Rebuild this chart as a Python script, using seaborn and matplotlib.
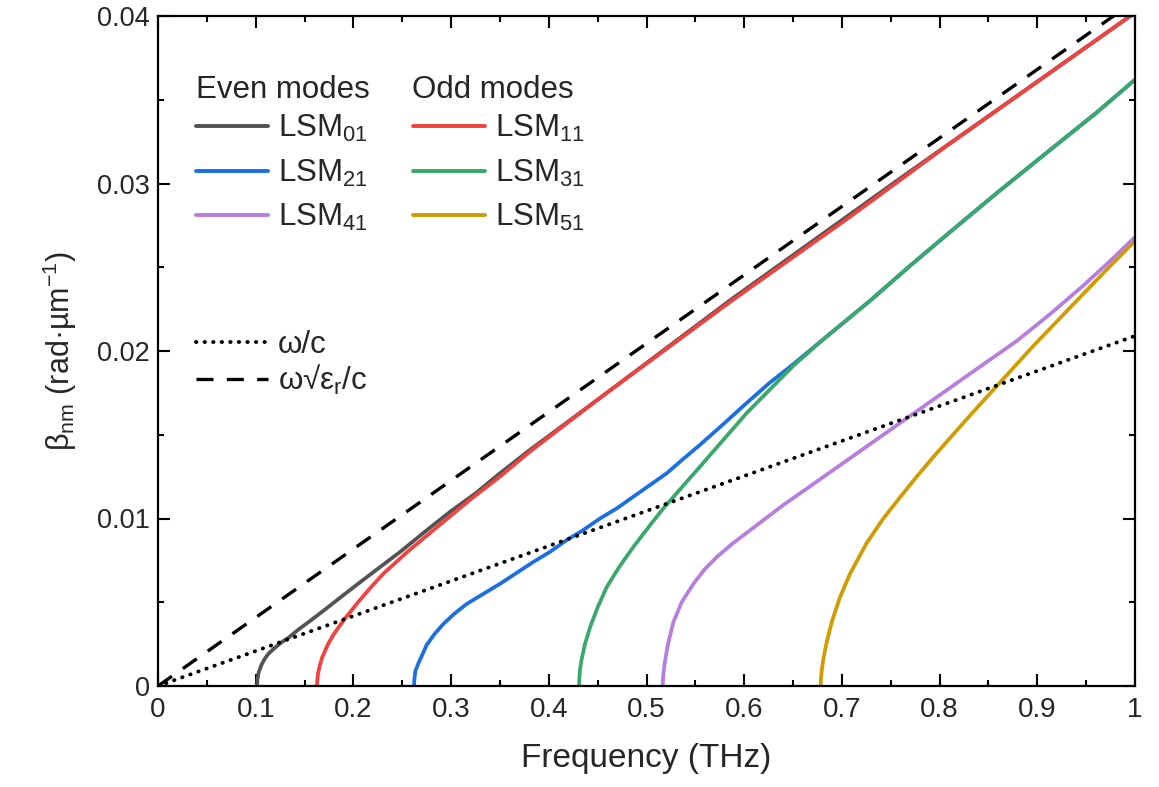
import numpy as np
import pandas as pd
import matplotlib
matplotlib.use("Agg")
import matplotlib.pyplot as plt
from matplotlib.lines import Line2D
import seaborn as sns

# ---------------- data ----------------
f_lsm01 = [0.1013, 0.1018, 0.1030, 0.1058, 0.1090, 0.1126, 0.1180, 0.1262, 0.1340, 0.1433, 0.1560,
           0.1706, 0.1870, 0.2047, 0.2250, 0.2477, 0.2730, 0.2989, 0.3250, 0.3500, 0.3808, 0.4524,
           0.5872, 0.7595, 1.0]
b_lsm01 = [0.0, 0.0004, 0.0008, 0.00125, 0.0016, 0.0019, 0.0022, 0.0026, 0.0029, 0.00335, 0.0039,
           0.00455, 0.0053, 0.0061, 0.0070, 0.0080, 0.0092, 0.0104, 0.0115, 0.0127, 0.0141, 0.0172,
           0.0231, 0.0303, 0.0402]

f_lsm11 = [0.1627, 0.1631, 0.1640, 0.1655, 0.1680, 0.1710, 0.1740, 0.1800, 0.1910, 0.2047, 0.2180,
           0.2306, 0.2550, 0.2818, 0.3190, 0.3500, 0.3808, 0.4524, 0.5872, 0.7080, 0.7595, 0.8038, 1.0]
b_lsm11 = [0.0, 0.0004, 0.0008, 0.0012, 0.0017, 0.0021, 0.0025, 0.0031, 0.0040, 0.0050, 0.0059,
           0.0067, 0.0080, 0.0093, 0.0111, 0.0125, 0.0140, 0.0172, 0.0230, 0.0280, 0.0302, 0.0321, 0.0402]

f_lsm21 = [0.2620, 0.2624, 0.2635, 0.2665, 0.2700, 0.2750, 0.2830, 0.2920, 0.3030, 0.3160, 0.3330,
           0.3500, 0.3670, 0.3840, 0.4010, 0.4180, 0.4350, 0.4524, 0.4695, 0.4865, 0.5036, 0.5207,
           0.5375, 0.5548, 0.5780, 0.6026, 0.6260, 0.6500, 0.6810, 0.7288, 0.7700, 0.8106, 0.8600,
           0.9130, 0.9600, 1.0]
b_lsm21 = [0.0, 0.0004, 0.0009, 0.00135, 0.0018, 0.00245, 0.0031, 0.0037, 0.0043, 0.0049, 0.0055,
           0.0061, 0.00675, 0.0074, 0.0080, 0.0087, 0.0093, 0.0100, 0.0106, 0.0113, 0.0120, 0.0127,
           0.01355, 0.0144, 0.0156, 0.0169, 0.0181, 0.0192, 0.0207, 0.0230, 0.0251, 0.0271, 0.0295,
           0.0320, 0.0342, 0.0362]

f_lsm31 = [0.4310, 0.4313, 0.4320, 0.4336, 0.4370, 0.4422, 0.4500, 0.4592, 0.4720, 0.4865, 0.5036,
           0.5172, 0.5548, 0.6026, 0.6500, 0.6810, 0.7288, 0.7700, 0.8106, 0.8600, 0.9130, 0.9600, 1.0]
b_lsm31 = [0.0, 0.0005, 0.0010, 0.0016, 0.0025, 0.0035, 0.0047, 0.0059, 0.0071, 0.0083, 0.0096,
           0.0106, 0.0131, 0.0163, 0.0191, 0.0207, 0.0230, 0.0251, 0.0271, 0.0295, 0.0320, 0.0342, 0.0362]

f_lsm41 = [0.5166, 0.5170, 0.5178, 0.5190, 0.5220, 0.5274, 0.5360, 0.5480, 0.5600, 0.5720, 0.5880,
           0.6060, 0.6400, 0.6742, 0.7083, 0.7424, 0.7766, 0.8106, 0.8447, 0.8790, 0.9130, 0.9470,
           0.9750, 1.0]
b_lsm41 = [0.0, 0.0005, 0.0010, 0.0015, 0.0025, 0.0038, 0.0050, 0.0061, 0.0070, 0.0077, 0.0085,
           0.0093, 0.0108, 0.0122, 0.0136, 0.0150, 0.0164, 0.0178, 0.0192, 0.0206, 0.0222, 0.0239,
           0.0254, 0.0268]

f_lsm51 = [0.6783, 0.6786, 0.6795, 0.6810, 0.6840, 0.6895, 0.6980, 0.7083, 0.7250, 0.7424, 0.7600,
           0.7766, 0.7940, 0.8106, 0.8350, 0.8584, 0.8959, 0.9420, 0.9700, 1.0]
b_lsm51 = [0.0, 0.0005, 0.0010, 0.0016, 0.0025, 0.0038, 0.0053, 0.0067, 0.0085, 0.0100, 0.0113,
           0.0125, 0.0137, 0.0148, 0.0164, 0.0179, 0.0203, 0.0231, 0.0248, 0.02657]

f_light = [0.0, 1.0]
b_vacuum = [0.0, 0.0209]      # omega / c
b_dielectric = [0.0, 0.0409]  # omega * sqrt(eps_r) / c

x_ticks = [0, 0.1, 0.2, 0.3, 0.4, 0.5, 0.6, 0.7, 0.8, 0.9, 1.0]
x_ticklabels = ["0", "0.1", "0.2", "0.3", "0.4", "0.5", "0.6", "0.7", "0.8", "0.9", "1"]
y_ticks = [0, 0.01, 0.02, 0.03, 0.04]
y_ticklabels = ["0", "0.01", "0.02", "0.03", "0.04"]

modes = [
    ("LSM$_{01}$", f_lsm01, b_lsm01, "#535353"),
    ("LSM$_{21}$", f_lsm21, b_lsm21, "#1C6FE0"),
    ("LSM$_{41}$", f_lsm41, b_lsm41, "#B57EDF"),
    ("LSM$_{11}$", f_lsm11, b_lsm11, "#F2413F"),
    ("LSM$_{31}$", f_lsm31, b_lsm31, "#3AA86C"),
    ("LSM$_{51}$", f_lsm51, b_lsm51, "#D09C00"),
]

# ---------------- style ----------------
sns.set_theme(style="ticks")
plt.rcParams["font.family"] = ["Liberation Sans", "DejaVu Sans"]
plt.rcParams["mathtext.fontset"] = "custom"
plt.rcParams["mathtext.rm"] = "Liberation Sans"
plt.rcParams["mathtext.it"] = "Liberation Sans"
plt.rcParams["mathtext.bf"] = "Liberation Sans:bold"

fig = plt.figure(figsize=(11.59, 7.87), dpi=100)
ax = fig.add_axes([158 / 1159, 1 - 686 / 787, 977 / 1159, 670 / 787])

LW = 2.7
DOT = (0, (0.1, 2.1))
DASH = (0, (5.1, 4.0))
for label, fx, by, col in modes:
    df = pd.DataFrame({"f": fx, "b": by})
    sns.lineplot(data=df, x="f", y="b", ax=ax, color=col, linewidth=LW, estimator=None,
                 sort=False, solid_capstyle="butt", solid_joinstyle="round")

dfl = pd.DataFrame({"f": f_light, "vac": b_vacuum, "die": b_dielectric})
sns.lineplot(data=dfl, x="f", y="vac", ax=ax, color="black", linewidth=2.8, estimator=None,
             linestyle=DOT, dash_capstyle="round")
sns.lineplot(data=dfl, x="f", y="die", ax=ax, color="black", linewidth=2.4, estimator=None,
             linestyle=DASH)

ax.set_xlim(0, 1)
ax.set_ylim(0, 0.04)
ax.set_xticks(x_ticks)
ax.set_xticklabels(x_ticklabels, fontsize=20)
ax.set_yticks(y_ticks)
ax.set_yticklabels(y_ticklabels, fontsize=19.5)
ax.set_xticks(np.arange(0.05, 1.0, 0.1), minor=True)
ax.set_yticks(np.arange(0.005, 0.04, 0.01), minor=True)
ax.tick_params(which="both", direction="in", top=True, right=True,
               labeltop=False, labelright=False, width=1.5, color="black")
ax.tick_params(which="major", length=8.8)
ax.tick_params(which="minor", length=4.4)
ax.tick_params(axis="x", pad=8)
ax.tick_params(axis="y", pad=6)
for sp in ax.spines.values():
    sp.set_visible(True)
    sp.set_linewidth(1.6)
    sp.set_color("black")

ax.set_xlabel("Frequency (THz)", fontsize=24, labelpad=14)
ax.set_ylabel("β$_{nm}$ (rad·µm$^{-1}$)", fontsize=22, labelpad=13)

# ---------------- legends ----------------
handles = [Line2D([], [], color=c, lw=2.8) for _, _, _, c in modes]
labels = [m[0] for m in modes]
leg1 = ax.legend(handles, labels, ncol=2, loc="upper left",
                 bbox_to_anchor=((196 - 158) / 977, (686 - 113) / 670),
                 frameon=False, fontsize=22.5, handlelength=2.3, handletextpad=0.33,
                 columnspacing=1.45, labelspacing=0.43, borderpad=0, borderaxespad=0)
ax.add_artist(leg1)
ax.text((196 - 158) / 977, (686 - 90) / 670, "Even modes", transform=ax.transAxes,
        fontsize=22.5, va="center", ha="left")
ax.text((412 - 158) / 977, (686 - 90) / 670, "Odd modes", transform=ax.transAxes,
        fontsize=22.5, va="center", ha="left")

h2 = [Line2D([], [], color="black", lw=2.8, linestyle=DOT, dash_capstyle="round"),
      Line2D([], [], color="black", lw=2.4, linestyle=DASH)]
leg2 = ax.legend(h2, ["ω/c", "ω√ε$_{r}$/c"], loc="upper left",
                 bbox_to_anchor=((196 - 158) / 977, (686 - 330) / 670),
                 frameon=False, fontsize=22.5, handlelength=2.3, handletextpad=0.33,
                 labelspacing=0.1, borderpad=0, borderaxespad=0)

fig.savefig("out.png", dpi=100)
